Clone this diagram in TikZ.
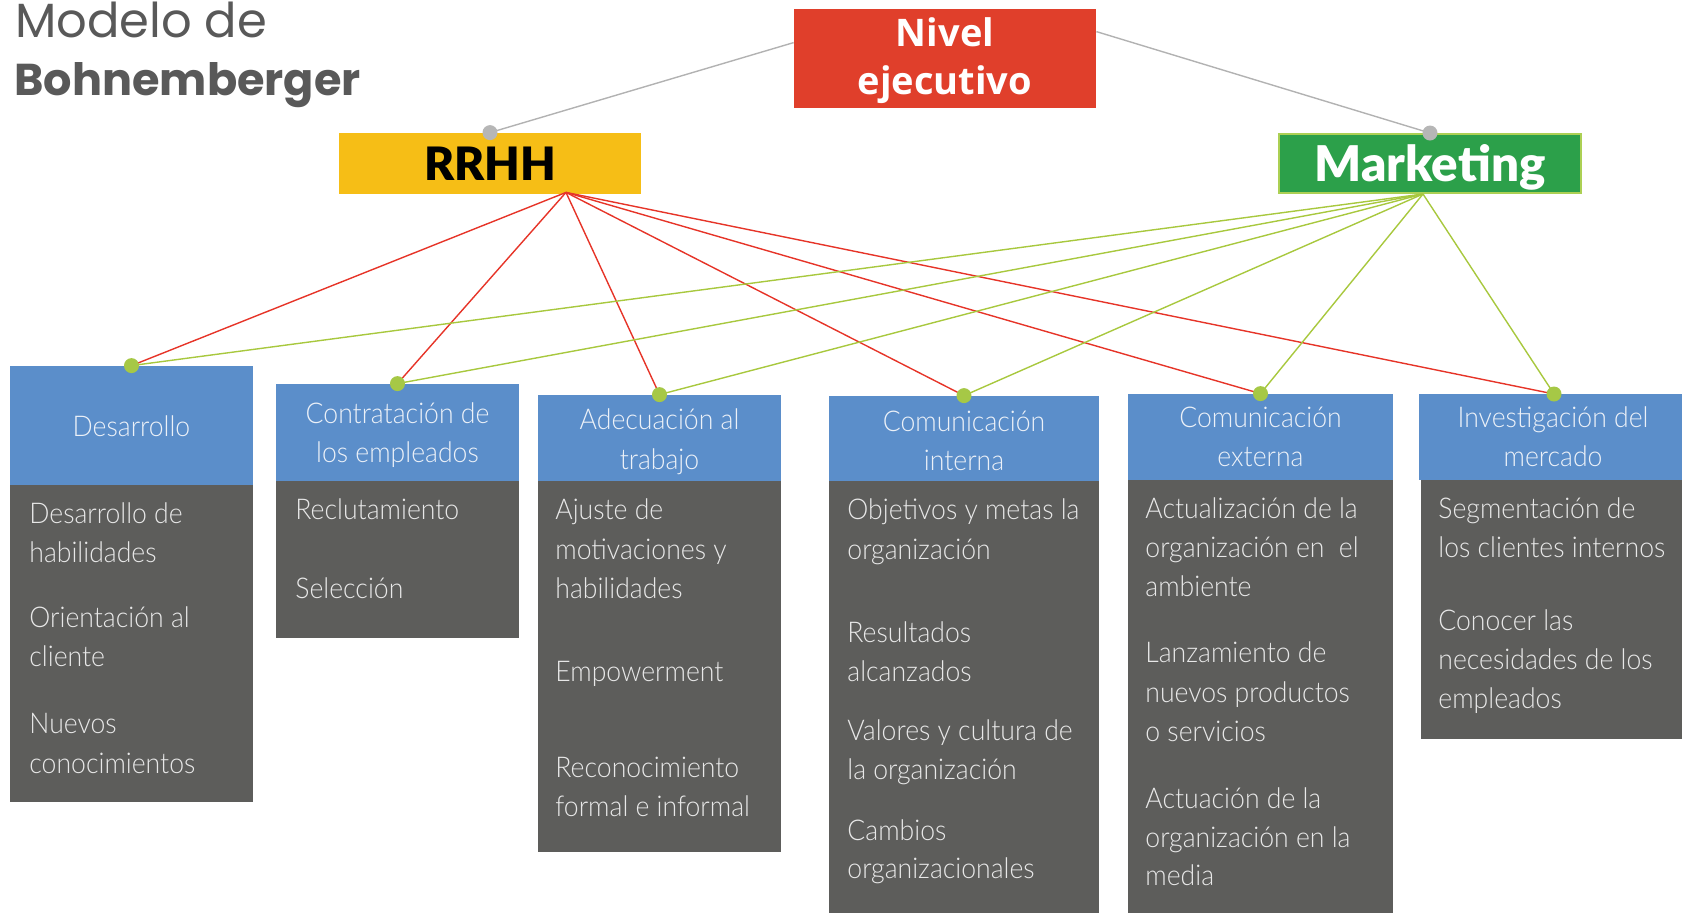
\documentclass[tikz,border=0pt]{standalone}
\usepackage{fontspec}
\usetikzlibrary{fit,calc}
\newfontfamily\lightfont{Lato Light}[FakeStretch=0.93]
\newfontfamily\heavyfont{Lato Black}
\newfontfamily\boldfont{Open Sans}
\newfontfamily\titlefont{Poppins}
\definecolor{nred}{RGB}{224,63,43}
\definecolor{ryellow}{RGB}{246,190,22}
\definecolor{mgreen}{RGB}{44,160,74}
\definecolor{mborder}{RGB}{172,208,84}
\definecolor{hblue}{RGB}{91,142,202}
\definecolor{bgray}{RGB}{93,93,91}
\definecolor{htext}{RGB}{236,241,248}
\definecolor{btext}{RGB}{232,232,232}
\definecolor{redl}{RGB}{230,52,40}
\definecolor{greenl}{RGB}{168,200,62}
\definecolor{grayl}{RGB}{178,178,178}
\definecolor{gdotc}{RGB}{166,200,70}
\definecolor{graydotc}{RGB}{182,182,182}
\definecolor{titlec}{RGB}{89,89,89}
\tikzset{
  hdrbox/.style={fill=hblue, inner sep=0pt, draw=none},
  bodybox/.style={fill=bgray, inner sep=0pt, draw=none},
  htxt/.style={font=\lightfont\fontsize{14.3}{17}\selectfont, text=htext, inner sep=0pt, anchor=base},
  btxt/.style={font=\lightfont\fontsize{14.3}{17}\selectfont, text=btext, inner sep=0pt, anchor=base west},
  gdot/.style={circle, fill=gdotc, inner sep=0pt, minimum size=7.5pt},
  graydot/.style={circle, fill=graydotc, inner sep=0pt, minimum size=7.5pt},
  redline/.style={draw=redl, line width=0.7pt},
  greenline/.style={draw=greenl, line width=0.7pt},
  grayline/.style={draw=grayl, line width=0.7pt},
  titletxt/.style={text=titlec, inner sep=0pt, anchor=base west},
  toptxt/.style={inner sep=0pt, anchor=base},
}
\begin{document}
\begin{tikzpicture}[x=0.5pt,y=-0.5pt]
\useasboundingbox (0,0) rectangle (1682,912);
% title
\node[titletxt, font=\titlefont\fontsize{24}{28}\selectfont] (t1) at (15,37) {Modelo de};
\node[titletxt, font=\titlefont\bfseries\fontsize{22.3}{28}\selectfont] (t2) at (14,95) {Bohnemberger};
% top boxes
\node[fill=nred, inner sep=0pt, fit={(794,9) (1096,108)}] (nivel) {};
\node[toptxt, text=white, font=\boldfont\bfseries\fontsize{19}{22}\selectfont] (nivel1) at (945,46) {Nivel};
\node[toptxt, text=white, font=\boldfont\bfseries\fontsize{19}{22}\selectfont] (nivel2) at (945,94) {ejecutivo};
\node[fill=ryellow, inner sep=0pt, fit={(339,133) (641,194)}] (rrhh) {};
\node[toptxt, text=black, font=\heavyfont\fontsize{23}{26}\selectfont] (rrhhtxt) at (490,180) {RRHH};
\node[fill=mgreen, draw=mborder, line width=1pt, inner sep=0pt, fit={(1279,134) (1581,193)}] (mkt) {};
\node[toptxt, text=white, font=\heavyfont\fontsize{24.6}{26}\selectfont] (mkttxt) at (1430,181) {Marketing};
% column 1
\node[hdrbox, fit={(10,366) (253,485)}] (h1) {};
\node[bodybox, fit={(10,485) (253,802)}] (c1) {};
\node[htxt] (h1a) at (131.5,436) {Desarrollo};
\foreach \t/\y [count=\i] in {Desarrollo de/523, habilidades/562, Orientación al/627, cliente/666, Nuevos/733, conocimientos/773}
  \node[btxt] (b1-\i) at (29,\y) {\t};
% column 2
\node[hdrbox, fit={(276,384) (519,481)}] (h2) {};
\node[bodybox, fit={(276,481) (519,638)}] (c2) {};
\node[htxt] (h2a) at (397.5,423) {Contratación de};
\node[htxt] (h2b) at (397.5,462) {los empleados};
\foreach \t/\y [count=\i] in {Reclutamiento/519, Selección/598}
  \node[btxt] (b2-\i) at (295,\y) {\t};
% column 3
\node[hdrbox, fit={(538,395) (781,481)}] (h3) {};
\node[bodybox, fit={(538,481) (781,852)}] (c3) {};
\node[htxt] (h3a) at (659.5,429) {Adecuación al};
\node[htxt] (h3b) at (659.5,469) {trabajo};
\foreach \t/\y [count=\i] in {Ajuste de/519, motivaciones y/559, habilidades/598, Empowerment/681, Reconocimiento/777, formal e informal/816}
  \node[btxt] (b3-\i) at (555,\y) {\t};
% column 4
\node[hdrbox, fit={(829,396) (1099,481)}] (h4) {};
\node[bodybox, fit={(829,481) (1099,916)}] (c4) {};
\node[htxt] (h4a) at (964,431) {Comunicación};
\node[htxt] (h4b) at (964,470) {interna};
\foreach \t/\y [count=\i] in {Objetivos y metas la/519, organización/559, Resultados/642, alcanzados/681, Valores y cultura de/740, la organización/779, Cambios/840, organizacionales/878}
  \node[btxt] (b4-\i) at (847,\y) {\t};
% column 5
\node[hdrbox, fit={(1128,394) (1393,480)}] (h5) {};
\node[bodybox, fit={(1128,480) (1393,916)}] (c5) {};
\node[htxt] (h5a) at (1260.5,427) {Comunicación};
\node[htxt] (h5b) at (1260.5,466) {externa};
\foreach \t/\y [count=\i] in {Actualización de la/518, organización en\ \ el/557, ambiente/596, Lanzamiento de/662, nuevos productos/702, o servicios/741, Actuación de la/808, organización en la/847, media/885}
  \node[btxt] (b5-\i) at (1145,\y) {\t};
% column 6
\node[hdrbox, fit={(1419,394) (1684,480)}] (h6) {};
\node[bodybox, fit={(1421,480) (1684,739)}] (c6) {};
\node[htxt] (h6a) at (1553,427) {Investigación del};
\node[htxt] (h6b) at (1553,466) {mercado};
\foreach \t/\y [count=\i] in {Segmentación de/518, los clientes internos/557, Conocer las/630, necesidades de los/669, empleados/708}
  \node[btxt] (b6-\i) at (1438,\y) {\t};
% connection points
\coordinate (rout) at ($(rrhh.south)+(76,-2)$);
\coordinate (mout) at ($(mkt.south)+(-7,0)$);
\coordinate (nl) at ($(nivel.north west)+(0,34)$);
\coordinate (nr) at ($(nivel.north east)+(0,23)$);
\coordinate (gr) at (rrhh.north);
\coordinate (gm) at (mkt.north);
\coordinate (p1) at (h1.north);
\coordinate (p2) at (h2.north);
\coordinate (p3) at (h3.north);
\coordinate (p4) at (h4.north);
\coordinate (p5) at (h5.north);
\coordinate (p6) at (1554,394);
% connectors
\draw[grayline] (nl) -- (gr);
\draw[grayline] (nr) -- (gm);
\foreach \p in {p1,p2,p3,p4,p5,p6} \draw[redline] (rout) -- (\p);
\foreach \p in {p1,p2,p3,p4,p5,p6} \draw[greenline] (mout) -- (\p);
% dots
\node[graydot] (dr) at (gr) {};
\node[graydot] (dm) at (gm) {};
\foreach \p in {p1,p2,p3,p4,p5,p6} \node[gdot] (d\p) at (\p) {};
\end{tikzpicture}
\end{document}
